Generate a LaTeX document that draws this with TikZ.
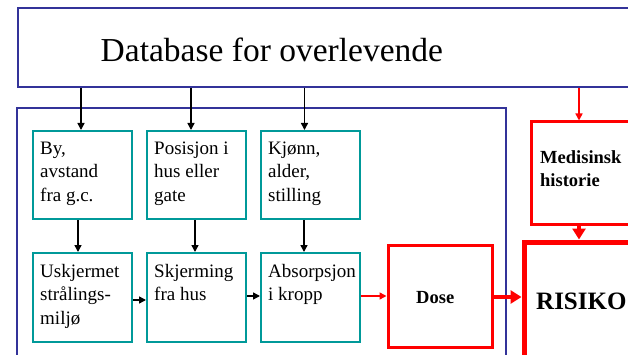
\documentclass[tikz,border=0pt]{standalone}
\usepackage{fontspec}
\setmainfont{Liberation Serif}
\usetikzlibrary{arrows.meta,calc}
\definecolor{frameblue}{RGB}{51,51,153}
\definecolor{tealbox}{RGB}{0,153,153}
\definecolor{pureRed}{RGB}{255,0,0}
\newcommand\tstrut{\rule{0pt}{14pt}}
\begin{document}
\begin{tikzpicture}[x=1pt,y=-1pt,
  bluebox/.style={draw=frameblue,line width=2pt,rectangle,inner sep=0pt},
  tealb/.style={draw=tealbox,line width=2pt,rectangle,minimum width=99pt,minimum height=88pt,inner sep=0pt},
  redb/.style={draw=pureRed,line width=3pt,rectangle,inner sep=0pt},
  tbody/.style={anchor=north west,inner sep=0pt,align=left,font=\fontsize{19}{23.5}\selectfont},
  barr/.style={draw=black,line width=1.5pt,-{Triangle[length=7pt,width=7pt]}},
  rarr/.style={draw=pureRed,line width=1.5pt,-{Triangle[length=7pt,width=7pt]}},
  rbig/.style={draw=pureRed,line width=4.5pt,-{Triangle[length=11pt,width=13pt]}},
]
\useasboundingbox (0,0) rectangle (628,355);
\fill[white] (0,0) rectangle (628,355);
\clip (0,0) rectangle (628,355);

% top database box
\node[bluebox,minimum width=632pt,minimum height=79pt] (db) at (334,47.5) {};
\node[anchor=base west,inner sep=0pt,font=\fontsize{33.5}{40}\selectfont] (dbt) at (100.5,62) {Database for overlevende};

% blue container
\node[bluebox,minimum width=489pt,minimum height=270pt] (cont) at (261.5,243) {};

% teal boxes
\node[tealb] (b1) at (82.5,175) {};
\node[tealb] (b2) at (196.5,175) {};
\node[tealb] (b3) at (310.5,175) {};
\node[tealb,minimum height=89pt] (b4) at (82.5,297.5) {};
\node[tealb,minimum height=89pt] (b5) at (196.5,297.5) {};
\node[tealb,minimum height=89pt] (b6) at (310.5,297.5) {};

\node[tbody] (t1) at ([xshift=8pt,yshift=-10pt]b1.north west) {\tstrut By,\\avstand\\fra g.c.};
\node[tbody] (t2) at ([xshift=8pt,yshift=-10pt]b2.north west) {\tstrut Posisjon i\\hus eller\\gate};
\node[tbody] (t3) at ([xshift=8pt,yshift=-10pt]b3.north west) {\tstrut Kjønn,\\alder,\\stilling};
\node[tbody] (t4) at ([xshift=8pt,yshift=-11pt]b4.north west) {\tstrut Uskjermet\\strålings-\\miljø};
\node[tbody] (t5) at ([xshift=8pt,yshift=-11pt]b5.north west) {\tstrut Skjerming\\fra hus};
\node[tbody] (t6) at ([xshift=8pt,yshift=-11pt]b6.north west) {\tstrut Absorpsjon\\i kropp};

% red boxes
\node[redb,minimum width=104pt,minimum height=102pt] (dose) at (440,296) {};
\node[anchor=base west,inner sep=0pt,font=\bfseries\fontsize{18.5}{22}\selectfont] (doset) at (416,303) {Dose};

\node[redb,minimum width=120pt,minimum height=102pt] (med) at (591,173) {};
\node[tbody,font=\bfseries\fontsize{18.5}{23.5}\selectfont] (medt) at (540,149) {\tstrut Medisinsk\\historie};

\node[draw=pureRed,line width=5pt,rectangle,inner sep=0pt,minimum width=127pt,minimum height=115pt] (risk) at (587.5,299.5) {};
\node[anchor=base west,inner sep=0pt,font=\bfseries\fontsize{25}{30}\selectfont] (riskt) at (536,309) {RISIKO};

% black arrows
\draw[barr] ([xshift=-1.5pt]b1.north |- db.south) -- ([xshift=-1.5pt]b1.north);
\draw[barr] ([xshift=-5.5pt]b2.north |- db.south) -- ([xshift=-5.5pt]b2.north);
\draw[barr] ([xshift=-6pt]b3.north |- db.south) -- ([xshift=-6pt]b3.north);
\draw[barr] ([xshift=-4.5pt]b1.south) -- ([xshift=-4.5pt]b4.north);
\draw[barr] ([xshift=-1.5pt]b2.south) -- ([xshift=-1.5pt]b5.north);
\draw[barr] ([xshift=-6.5pt]b3.south) -- ([xshift=-6.5pt]b6.north);
\draw[barr] ([yshift=-2.5pt]b4.east) -- ([yshift=-2.5pt]b4.east -| b5.west);
\draw[barr] ([yshift=1.5pt]b5.east) -- ([yshift=1.5pt]b5.east -| b6.west);

% red arrows
\draw[rarr] ([yshift=1.5pt]b6.east) -- ([yshift=1.5pt]b6.east -| dose.west);
\draw[rbig] ([yshift=-1pt]dose.east) -- ([yshift=-1pt]dose.east -| risk.west);
\coordinate (mx) at (579,0);
\draw[rarr] (db.south -| mx) -- (med.north -| mx);
\draw[rbig] (med.south -| mx) -- (risk.north -| mx);
\end{tikzpicture}
\end{document}
